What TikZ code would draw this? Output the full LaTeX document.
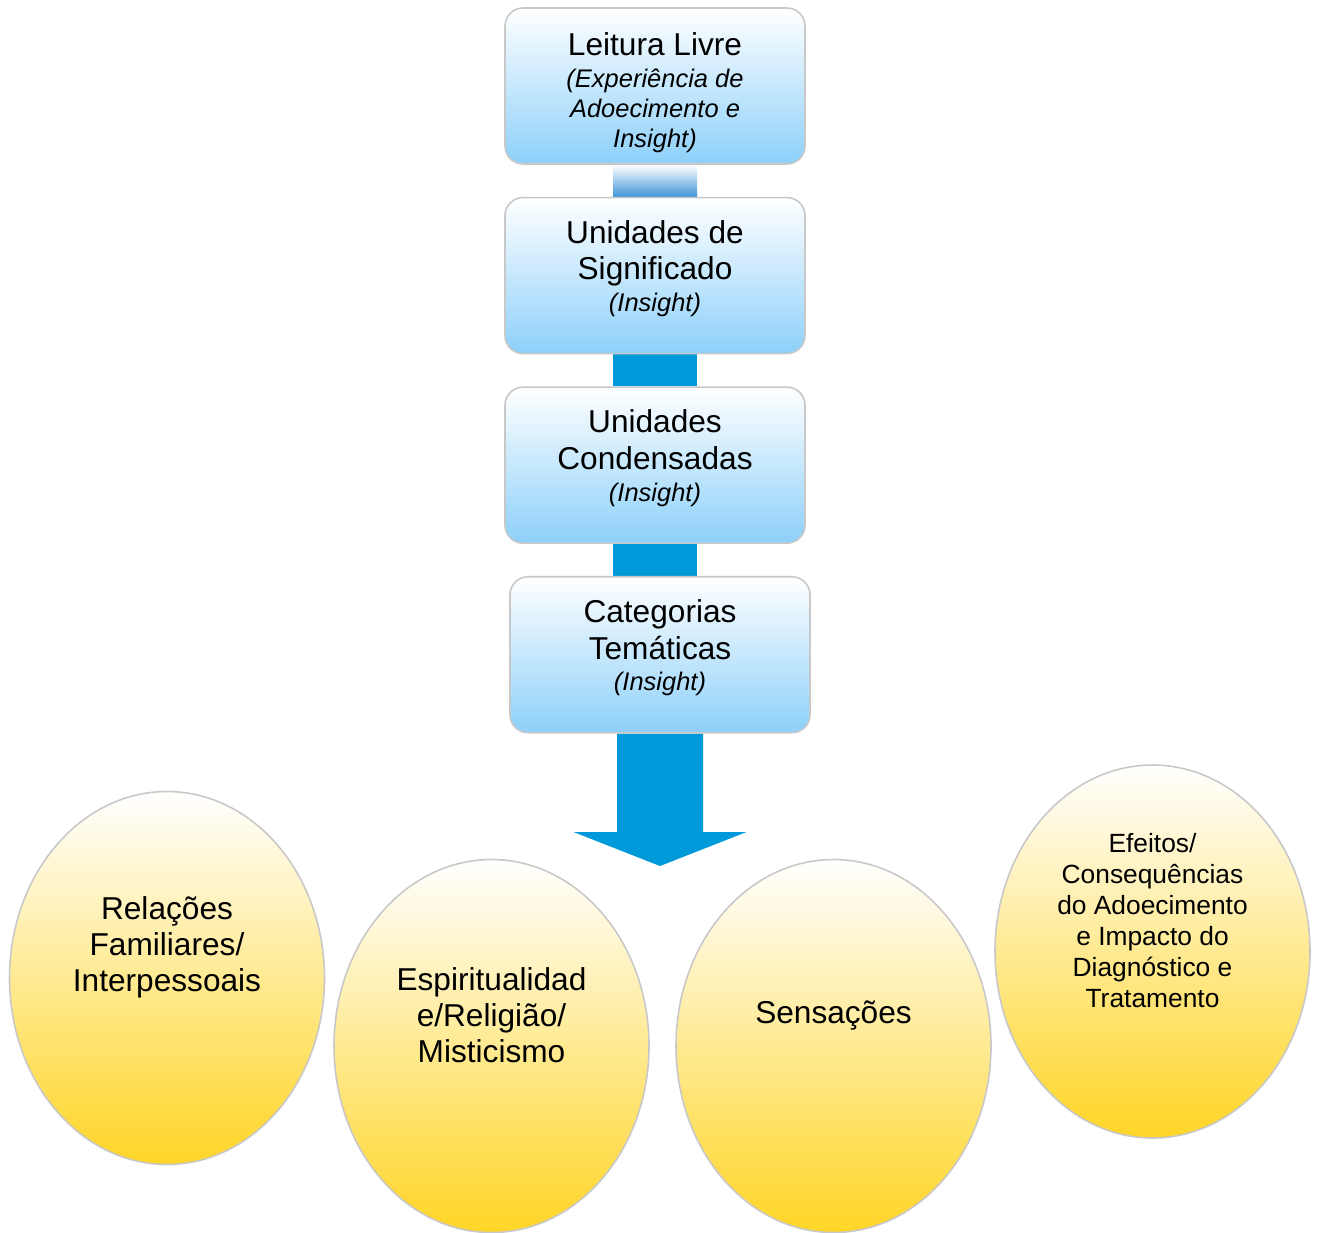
\documentclass[tikz,border=0pt]{standalone}
\usepackage{fontspec}
\setmainfont{Liberation Sans}
\usepackage{tikz}
\usetikzlibrary{arrows.meta,positioning,shapes.geometric,backgrounds,calc}
\definecolor{flowblue}{HTML}{0099DA}
\definecolor{fadeblue}{HTML}{3F95D6}
\definecolor{boxbot}{HTML}{8DD0FA}
\definecolor{rim}{HTML}{C8C8C8}
\definecolor{goldmid}{HTML}{FFF4DC}
\definecolor{goldbot}{HTML}{FFD526}
\tikzset{
  stage/.style={draw=rim,line width=0.9pt,rounded corners=3.6mm,top color=white,bottom color=boxbot,minimum width=6cm,minimum height=3.12cm,align=center,font=\fontsize{18}{21}\selectfont},
  lift/.style={text depth=0.39cm},
  topic/.style={ellipse,draw=rim,line width=0.9pt,top color=white,middle color=goldmid,bottom color=goldbot,minimum width=6.3cm,minimum height=7.46cm,inner sep=0pt},
  topictext/.style={align=center,font=\fontsize{18}{20.5}\selectfont,yshift=0.62cm},
  link/.style={flowblue,line width=1.68cm},
  bigarrow/.style={flowblue,line width=1.72cm,-{Triangle[width=3.46cm,length=0.68cm,line width=0pt]}}
}
\newcommand{\aside}[1]{{\fontsize{14.5}{17}\selectfont\itshape #1}}

\begin{document}
\begin{tikzpicture}[node distance=0.64cm]
  \useasboundingbox (0,0) rectangle (26.38,-24.64);
  \node[stage,text height=2.57cm] (livre) at (13.1,-1.72) {Leitura Livre\\[-2.5pt]\aside{(Experiência de}\\[-4pt]\aside{Adoecimento e}\\[-4pt]\aside{Insight)}};
  \node[stage,lift,below=of livre] (unid) {Unidades de\\Significado\\[-3pt]\aside{(Insight)}};
  \node[stage,lift,below=of unid] (cond) {Unidades\\Condensadas\\[-3pt]\aside{(Insight)}};
  \node[stage,lift,below=of cond,xshift=0.1cm] (cat) {Categorias\\Temáticas\\[-3pt]\aside{(Insight)}};
  \coordinate (tip) at (13.2,-17.32);

  \node[topic,label={[topictext]center:Relações\\Familiares/\\Interpessoais}] (rel) at (3.34,-19.56) {};
  \node[topic,label={[topictext]center:Espiritualidad\\e/Religião/\\Misticismo}] (esp) at (9.83,-20.92) {};
  \node[topic,label={[topictext]center:Sensações}] (sens) at (16.67,-20.92) {};
  \node[topic,label={[topictext,font=\fontsize{15}{17.6}\selectfont]center:Efeitos/\\Consequências\\do Adoecimento\\e Impacto do\\Diagnóstico e\\Tratamento}] (efe) at (23.05,-19.03) {};

  \begin{scope}[on background layer]
    \shade[top color=white,bottom color=fadeblue] ($(livre.south)+(-0.84,0)$) rectangle ($(unid.north)+(0.84,0)$);
    \draw[link] (unid) -- (cond);
    \draw[link] (cond.south) -- (cond.south |- cat.north);
    \draw[bigarrow] (cat) -- (tip);
  \end{scope}
\end{tikzpicture}
\end{document}
